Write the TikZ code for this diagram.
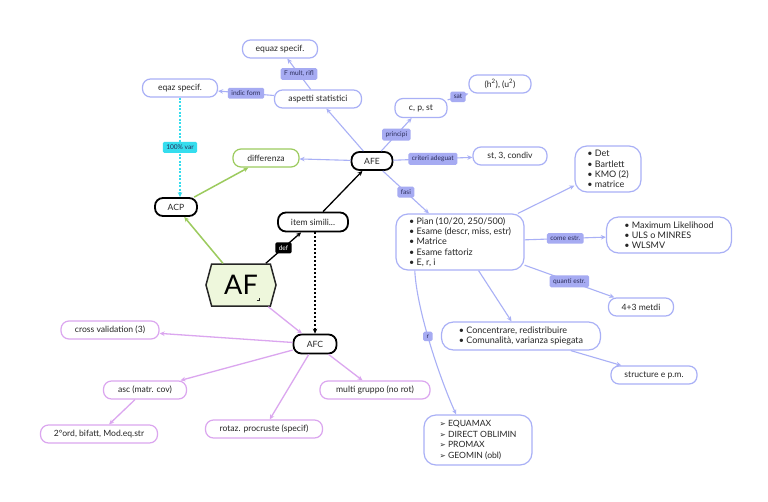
\documentclass[tikz,border=0pt]{standalone}
\usepackage{fontspec}
\setmainfont{Lato}
\newfontfamily\djv{DejaVu Sans}
\usetikzlibrary{arrows.meta,shapes.symbols,calc}
\definecolor{bluec}{HTML}{A9B0F6}
\definecolor{labc}{HTML}{A6ABF2}
\definecolor{labtxt}{HTML}{2B2D5A}
\definecolor{purc}{HTML}{DBA6EF}
\definecolor{grc}{HTML}{9CCB5E}
\definecolor{affill}{HTML}{EEF7DC}
\definecolor{cyc}{HTML}{35DDEE}
\definecolor{txt}{HTML}{262626}
\begin{document}
\begin{tikzpicture}[x=1pt,y=-1pt,
  box/.style={draw=bluec, line width=1.2pt, rounded corners=8pt, fill=white, text=txt,
    font=\fontsize{8.6}{10}\selectfont, inner sep=0pt, minimum height=18pt},
  bigbox/.style={box, rounded corners=12pt, align=left, font=\fontsize{9}{10.2}\selectfont},
  bbox/.style={box, draw=black, line width=1.8pt},
  pbox/.style={box, draw=purc},
  gbox/.style={box, draw=grc},
  lab/.style={fill=labc, rounded corners=1.5pt, font=\fontsize{6.6}{7}\selectfont,
    text=labtxt, inner xsep=3.5pt, inner ysep=3pt},
  clab/.style={lab, fill=cyc},
  klab/.style={lab, fill=black, text=white},
  tip/.style={-{Stealth[length=5pt,width=4.5pt]}},
  bl/.style={draw=bluec, line width=1.1pt, tip},
  pl/.style={draw=purc, line width=1.3pt, tip},
  gl/.style={draw=grc, line width=1.5pt, tip},
  kl/.style={draw=black, line width=1.3pt, tip},
  cl/.style={draw=cyc, line width=1.1pt, dash pattern=on 2pt off 1.5pt, tip}
]
\useasboundingbox[fill=white] (0,0) rectangle (768,501);

% nodes
\node[box, minimum width=75] (equaz) at (280,49) {equaz specif.};
\node[box, minimum width=75] (eqaz) at (180,88) {eqaz specif.};
\node[box, minimum width=87] (asp) at (318,99) {aspetti statistici};
\node[bbox, minimum width=42] (acp) at (176,207) {ACP};
\node[gbox, minimum width=66] (diff) at (266,158) {differenza};
\node[bbox, minimum width=41] (afe) at (372,161) {AFE};
\node[box, minimum width=52, minimum height=19] (cps) at (421,108) {c, p, st};
\node[box, minimum width=62] (h2) at (500,84) {(h\textsuperscript{2}), (u\textsuperscript{2})};
\node[box, minimum width=74] (st3) at (510,156) {st, 3, condiv};
\node[bigbox, minimum width=128, minimum height=56] (pian) at (460,242)
  {• Pian (10/20, 250/500)\\• Esame (descr, miss, estr)\\• Matrice\\• Esame fattoriz\\• E, r, i};
\node[bigbox, minimum width=66, minimum height=46] (det) at (608,169)
  {• Det\\• Bartlett\\• KMO (2)\\• matrice};
\node[bigbox, minimum width=125, minimum height=36] (ml) at (669,235)
  {• Maximum Likelihood\\• ULS o MINRES\\• WLSMV};
\node[box, minimum width=65] (m43) at (641,307) {4+3 metdi};
\node[bigbox, minimum width=159, minimum height=28] (conc) at (521,336)
  {• Concentrare, redistribuire\\• Comunalità, varianza spiegata};
\node[box, minimum width=86] (struc) at (654,375) {structure e p.m.};
\node[bigbox, minimum width=108, minimum height=50, font=\fontsize{8.6}{10.7}\selectfont] (equa) at (478,440)
  {{\djv\fontsize{7.5}{10}\selectfont ➢} EQUAMAX\\{\djv\fontsize{7.5}{10}\selectfont ➢} DIRECT OBLIMIN\\{\djv\fontsize{7.5}{10}\selectfont ➢} PROMAX\\{\djv\fontsize{7.5}{10}\selectfont ➢} GEOMIN (obl)};
\node[bbox, minimum width=70, minimum height=19] (item) at (313,222) {item simili...};
\node[draw=txt, line width=1.5pt, fill=affill, shape=signal, signal to=west and east,
  signal pointer angle=150, minimum width=70, minimum height=42, inner sep=0pt,
  text=black, font=\fontsize{27}{27}\selectfont] (af) at (241,285) {AF};
\draw[txt, line width=0.8pt] (256.5,300) -- (259,300) -- (259,297.5);
\node[bbox, minimum width=43, minimum height=19] (afc) at (315,344) {AFC};
\node[pbox, minimum width=98] (cv) at (110,330) {cross validation (3)};
\node[pbox, minimum width=83] (asc) at (145,390) {asc (matr. cov)};
\node[pbox, minimum width=117] (ord) at (99,434) {2°ord, bifatt, Mod.eq.str};
\node[pbox, minimum width=117] (rot) at (264,429) {rotaz. procruste (specif)};
\node[pbox, minimum width=110] (multi) at (375,390) {multi gruppo (no rot)};

% connectors
\draw[gl] (af) -- (acp);
\draw[gl] (acp) -- (diff);
\draw[kl] (af) -- node[klab]{def} (item);
\draw[kl] (item) -- (afe);
\draw[draw=black, line width=1.1pt, dash pattern=on 2pt off 2pt, tip] (afc.north |- item.south) -- (afc.north);
\draw[pl] (af) -- (afc);
\draw[bl] (afe) -- (diff);
\draw[bl] (afe) -- (asp);
\draw[bl] (asp) -- node[lab]{F mult, rifl} (equaz);
\draw[bl] (asp) -- node[lab]{indic form} (eqaz);
\draw[cl] (eqaz.south) -- node[clab]{100\% var} (eqaz.south |- acp.north);
\draw[bl] (afe) -- node[lab]{principi} (cps);
\draw[bl] (cps) -- node[lab]{sat} (h2);
\draw[bl] (afe) -- node[lab]{criteri adeguat} (st3);
\draw[bl] (afe) -- node[lab]{fasi} (pian);
\draw[bl] (pian) -- (det);
\draw[bl] (pian) -- node[lab]{come estr.} (ml);
\draw[bl] (pian) -- node[lab]{quanti estr.} (m43);
\draw[bl] (pian) -- (conc);
\draw[bl] (conc) -- (struc);
\draw[bl] ($(pian.south)!.7!(pian.south west)$) .. controls +(2,40) and +(-16,-35) ..
  node[lab, pos=0.45]{r} ($(equa.north)!.4!(equa.north west)$);
\draw[pl] (afc) -- (cv);
\draw[pl] (afc) -- (asc);
\draw[pl] (afc) -- (rot);
\draw[pl] (afc) -- (multi);
\draw[pl] (asc) -- (ord);
\end{tikzpicture}
\end{document}
